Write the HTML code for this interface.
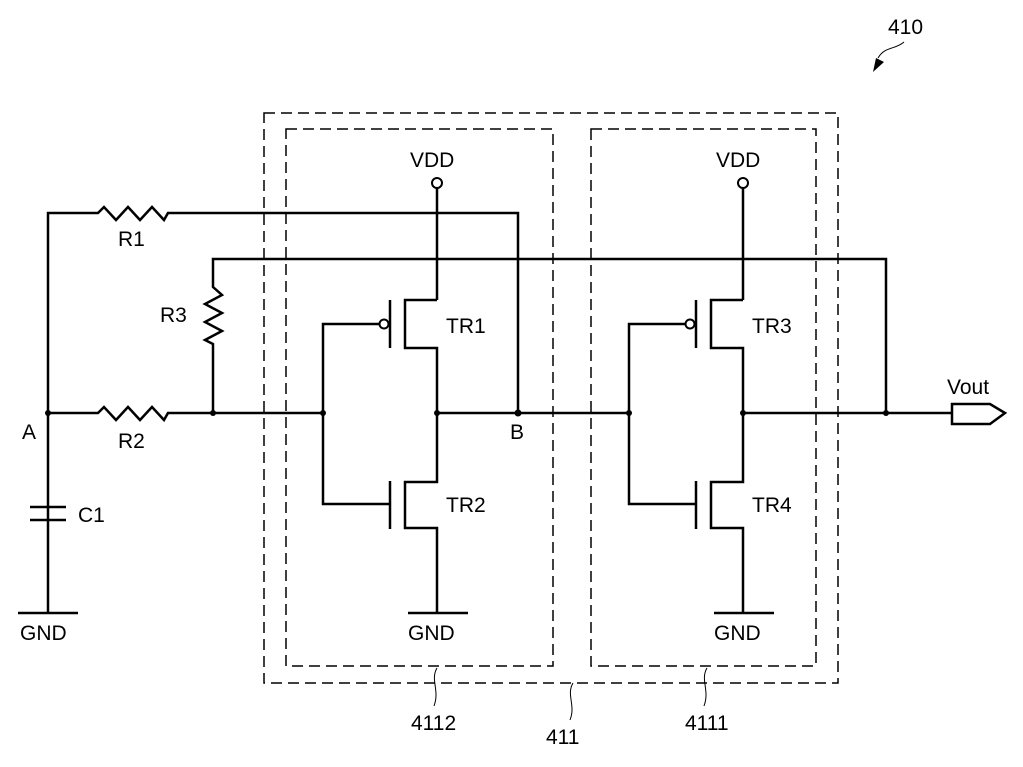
<!DOCTYPE html>
<html><head><meta charset="utf-8"><style>
html,body{margin:0;padding:0;background:#fff;}
svg{display:block;}
text{font-family:"Liberation Sans",sans-serif;font-size:21px;fill:#000;}
</style></head><body>
<svg width="1023" height="767" viewBox="0 0 1023 767" xmlns="http://www.w3.org/2000/svg">
<g fill="none" stroke="#000" stroke-width="1.5" stroke-dasharray="11,6">
<rect x="264" y="113" width="574" height="570"/>
<rect x="286" y="129" width="267" height="537"/>
<rect x="591" y="129" width="225" height="537"/>
</g>
<g fill="none" stroke="#000" stroke-width="2.5">
<polyline points="48,613 48,213 98,213 104,207 116,220 128,207 140,220 152,207 164,220 168,213 518,213 518,413"/>
<polyline points="48,413 98,413 104,407 116,420 128,407 140,420 152,407 164,420 168,413 323,413"/>
<line x1="437" y1="413" x2="629" y2="413"/>
<line x1="743" y1="413" x2="952" y2="413"/>
<polyline points="213,413 213,344 205,340 222,331 205,322 222,313 205,304 222,295 213,287 213,259 886,259 886,413"/>
<polygon points="952,404 990,404 1005,413 990,424 952,424"/>
<line x1="30" y1="507" x2="66" y2="507"/>
<line x1="30" y1="520" x2="66" y2="520"/>
<line x1="18" y1="613" x2="78" y2="613"/>
</g>
<g id="inv" fill="none" stroke="#000" stroke-width="2.5">
<line x1="437" y1="188" x2="437" y2="300"/>
<polyline points="437,300 405,300 405,348 437,348 437,482 405,482 405,528 437,528 437,613"/>
<line x1="390" y1="300" x2="390" y2="348"/>
<line x1="390" y1="481" x2="390" y2="529"/>
<polyline points="379,324 323,324 323,504 390,504"/>
<line x1="408" y1="613" x2="468" y2="613"/>
</g>
<circle cx="384" cy="324" r="4.5" fill="#fff" stroke="#000" stroke-width="2"/>
<circle cx="437" cy="183" r="5" fill="#fff" stroke="#000" stroke-width="2"/>
<use href="#inv" x="306"/>
<circle cx="690" cy="324" r="4.5" fill="#fff" stroke="#000" stroke-width="2"/>
<circle cx="743" cy="183" r="5" fill="#fff" stroke="#000" stroke-width="2"/>
<g fill="#000">
<circle cx="48" cy="413" r="3"/><circle cx="213" cy="413" r="3"/><circle cx="323" cy="413" r="3"/>
<circle cx="437" cy="413" r="3"/><circle cx="518" cy="413" r="3.5"/><circle cx="629" cy="413" r="3"/>
<circle cx="743" cy="413" r="3"/><circle cx="886" cy="413" r="3"/>
</g>
<g fill="none" stroke="#000" stroke-width="1">
<path d="M437,668 C430,680 440,690 434,706"/>
<path d="M573,683 C566,695 576,705 570,720"/>
<path d="M707,668 C700,680 710,690 704,706"/>
<path d="M904,42 C895,50 885,46 878,58"/>
</g>
<polygon points="873,72 876,58 884,62" fill="#000"/>
<text x="410" y="167">VDD</text><text x="716" y="167">VDD</text>
<text x="446" y="333">TR1</text><text x="446" y="512">TR2</text>
<text x="752" y="333">TR3</text><text x="752" y="512">TR4</text>
<text x="408" y="640">GND</text><text x="714" y="640">GND</text><text x="20" y="640">GND</text>
<text x="118" y="246">R1</text><text x="118" y="448">R2</text><text x="160" y="322">R3</text>
<text x="78" y="522">C1</text>
<text x="22" y="439">A</text><text x="510" y="439">B</text>
<text x="947" y="394">Vout</text>
<text x="888" y="34">410</text>
<text x="411" y="730">4112</text><text x="546" y="744">411</text><text x="685" y="730">4111</text>
</svg>
</body></html>
